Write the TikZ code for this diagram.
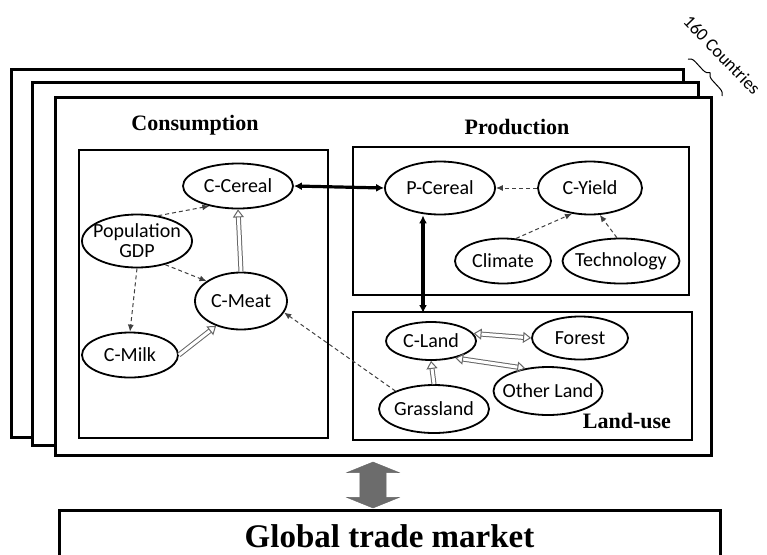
\documentclass[tikz,border=0pt]{standalone}
\usepackage{fontspec}
\setmainfont{Liberation Serif}
\setsansfont{Carlito}
\usepackage{tikz}
\usetikzlibrary{shapes.geometric,shapes.arrows,arrows.meta,decorations.pathreplacing}

\newcommand{\lbl}[1]{\makebox[0pt]{#1}}

\begin{document}
\begin{tikzpicture}[x=1pt, y=-1pt,
  var/.style={ellipse, draw, line width=1.8pt, inner sep=0pt,
    font=\sffamily\fontsize{20}{20}\selectfont, align=center},
  frame/.style={draw, line width=3pt, fill=white},
  box/.style={draw, line width=2pt},
  title/.style={font=\bfseries\fontsize{22}{24}\selectfont},
  dep/.style={draw=black!75, line width=1pt, dash pattern=on 4pt off 3pt,
    -{Latex[length=7pt,width=6pt]}},
  link/.style={line width=3.2pt,
    {Latex[length=8pt,width=8pt]}-{Latex[length=8pt,width=8pt]}},
  hollow/.style={draw=black!60, double=white, double distance=3pt, line width=1pt,
    -{Triangle[open,length=8pt,width=11pt]}},
  hollow2/.style={hollow, {Triangle[open,length=8pt,width=11pt]}-{Triangle[open,length=8pt,width=11pt]}}
  ]
  \clip (0,0) rectangle (767,554);

  % country frames
  \draw[frame] (11,69) rectangle (683,437);
  \draw[frame] (32,82) rectangle (698,445);
  \draw[frame] (55,97) rectangle (711,455);
  \draw[decorate, decoration={brace, amplitude=7pt}, line width=1pt] (688,59) -- (722,96);
  \node[rotate=-46, font=\sffamily\fontsize{18}{20}\selectfont] (nc) at (722,55) {160 Countries};

  % sub-models
  \node[title] at (195,125) {Consumption};
  \node[title] at (517,127) {Production};
  \draw[box] (79,150) rectangle (328,438);
  \draw[box] (353,147) rectangle (689,295);
  \draw[box] (353,312) rectangle (692,440);
  \node[title] at (627,421) {Land-use};
  \coordinate (lu) at (423,313);

  % consumption
  \node[var, minimum width=110pt, minimum height=45pt] (ccer) at (238,186) {\lbl{C-Cereal}};
  \node[var, minimum width=110pt, minimum height=53pt] (pop) at (137,241) {\lbl{Population}\\\lbl{GDP}};
  \node[var, minimum width=92pt, minimum height=57pt] (meat) at (241,301) {\lbl{C-Meat}};
  \node[var, minimum width=96pt, minimum height=45pt] (milk) at (130,355) {\lbl{C-Milk}};

  % production
  \node[var, minimum width=110pt, minimum height=53pt] (pcer) at (440,188) {\lbl{P-Cereal}};
  \node[var, minimum width=104pt, minimum height=53pt] (yield) at (590,188) {\lbl{C-Yield}};
  \node[var, minimum width=96pt, minimum height=45pt] (clim) at (503,261) {\lbl{Climate}};
  \node[var, minimum width=117pt, minimum height=45pt] (tech) at (621,261) {\lbl{Technology}};

  % land-use
  \node[var, minimum width=90pt, minimum height=38pt] (land) at (431,341) {\lbl{C-Land}};
  \node[var, minimum width=96pt, minimum height=43pt] (forest) at (580,338) {\lbl{Forest}};
  \node[var, minimum width=109pt, minimum height=48pt] (other) at (548,391) {\lbl{Other Land}};
  \node[var, minimum width=110pt, minimum height=48pt] (grass) at (434,409) {\lbl{Grassland}};

  \draw[dep] (pop.50) -- (ccer.215);
  \draw[dep] (pop.-40) -- (meat.150);
  \draw[dep] (pop.south) -- (milk.north);
  \draw[hollow] (meat.north) -- (ccer.south);
  \draw[hollow] (milk.east) -- (meat.225);
  \draw[link] (ccer.east) -- (pcer.west);
  \draw[dep] (yield.west) -- (pcer.east);
  \draw[dep] (clim.60) -- (yield.235);
  \draw[dep] (tech.100) -- (yield.290);
  \draw[link] (pcer.south -| lu) -- (lu);
  \draw[dep] (grass.155) -- (meat.-15);
  \draw[hollow] (grass.north) -- (land.south);
  \draw[hollow2] (land.10) -- (forest.180);
  \draw[hollow2] (land.-35) -- (other.135);

  % trade
  \node[double arrow, double arrow head extend=13pt, double arrow tip angle=136,
    minimum height=46pt, inner xsep=0pt, inner ysep=13pt, rotate=90,
    fill=gray!85!black, draw=black!60] (trade) at (373,485) {};
  \node[frame, minimum width=661pt, minimum height=52pt, inner sep=0pt,
    font=\bfseries\fontsize{33}{36}\selectfont] (market) at (389.5,536) {Global trade market};
\end{tikzpicture}
\end{document}
